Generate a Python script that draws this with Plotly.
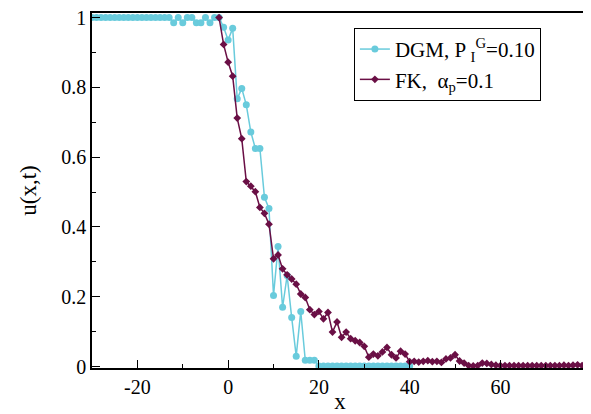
import plotly.graph_objects as go

# DGM series (x = -30 .. 40)
dgm_x = list(range(-30, 41))
dgm_y = ([1.0] * 18 +                      # -30 .. -13
         [0.985, 1.0, 0.985, 1.0, 1.0, 0.985, 0.985, 1.0, 0.985, 1.0, 1.0,   # -12 .. -2
          0.972, 0.936, 0.969, 0.767, 0.797, 0.750, 0.672, 0.625, 0.625,   # -1 .. 7
          0.485, 0.453, 0.204, 0.344, 0.170, 0.261, 0.141, 0.030, 0.158,   # 8 .. 16
          0.018, 0.018, 0.018] +                                           # 17 .. 19
         [0.002] * 21)                                                     # 20 .. 40

# FK series (x = -2 .. 79)
fk_x = list(range(-2, 80))
fk_y = [1.0, 0.923, 0.872, 0.832, 0.712, 0.653, 0.530, 0.517, 0.501, 0.456,   # -2 .. 7
        0.439, 0.408, 0.309, 0.320, 0.280, 0.263, 0.251, 0.236, 0.208, 0.198,  # 8 .. 17
        0.163, 0.149, 0.158, 0.137, 0.155, 0.099, 0.128, 0.084, 0.099, 0.080,  # 18 .. 27
        0.074, 0.069, 0.058, 0.027, 0.036, 0.031, 0.042, 0.055, 0.034, 0.025,  # 28 .. 37
        0.044, 0.036, 0.014, 0.015, 0.013, 0.015, 0.017, 0.014, 0.015, 0.012,  # 38 .. 47
        0.022, 0.025, 0.034, 0.016, 0.010, 0.003, 0.002, 0.003, 0.010, 0.009,  # 48 .. 57
        0.006, 0.004, 0.003, 0.003, 0.003, 0.003, 0.003, 0.003, 0.003, 0.003,  # 58 .. 67
        0.003, 0.003, 0.003, 0.003, 0.003, 0.003, 0.004, 0.003, 0.004, 0.005,  # 68 .. 77
        0.003, 0.004]                                                          # 78 .. 79

y_ticks = [0, 0.2, 0.4, 0.6, 0.8, 1.0]
y_ticktext = ["0", "0.2", "0.4", "0.6", "0.8", "1"]
x_ticks = [-20, 0, 20, 40, 60]
x_ticktext = ["-20", "0", "20", "40", "60"]

CYAN = "#69cbdc"
MAROON = "#6a0f45"
FONT = "Liberation Serif, DejaVu Serif, serif"

fig = go.Figure()
fig.add_trace(go.Scatter(
    x=dgm_x, y=dgm_y, mode="lines+markers",
    name="DGM, P <sub>I</sub><sup>G</sup>=0.10",
    line=dict(color=CYAN, width=1.5),
    marker=dict(color=CYAN, size=7, symbol="circle"),
))
fig.add_trace(go.Scatter(
    x=fk_x, y=fk_y, mode="lines+markers",
    name="FK,  α<sub>p</sub>=0.1",
    line=dict(color=MAROON, width=1.5),
    marker=dict(color=MAROON, size=6, symbol="diamond"),
))

# page body has an 8px margin, so the figure is sized/placed to compensate
fig.update_layout(
    width=583, height=406,
    margin=dict(l=84, r=3, t=5, b=46),
    paper_bgcolor="white", plot_bgcolor="white",
    font=dict(family=FONT, size=20, color="black"),
    showlegend=True,
    legend=dict(
        x=0.528, y=0.958, xanchor="left", yanchor="top",
        bordercolor="black", borderwidth=1, bgcolor="white",
        font=dict(family=FONT, size=21), tracegroupgap=0,
    ),
)
fig.update_xaxes(
    range=[-30, 79.3], showgrid=False, zeroline=False, automargin=False,
    showline=True, linecolor="black", linewidth=1.5, mirror=True,
    tickmode="array", tickvals=x_ticks, ticktext=x_ticktext,
    ticks="inside", ticklen=8, tickcolor="black", ticklabeloverflow="allow",
    minor=dict(dtick=10, tick0=0, ticks="inside", ticklen=4, tickcolor="black"),
    title=dict(text="x", font=dict(family=FONT, size=23), standoff=0),
    tickfont=dict(family=FONT, size=20),
)
fig.update_yaxes(
    range=[-0.004, 1.013], showgrid=False, zeroline=False, automargin=False,
    showline=True, linecolor="black", linewidth=1.5, mirror=True,
    tickmode="array", tickvals=y_ticks, ticktext=y_ticktext,
    ticks="inside", ticklen=8, tickcolor="black", ticklabeloverflow="allow",
    minor=dict(dtick=0.1, tick0=0, ticks="inside", ticklen=4, tickcolor="black"),
    title=dict(text="u(x,t)", font=dict(family=FONT, size=23), standoff=18),
    tickfont=dict(family=FONT, size=20),
)

fig.write_html("out.html")
